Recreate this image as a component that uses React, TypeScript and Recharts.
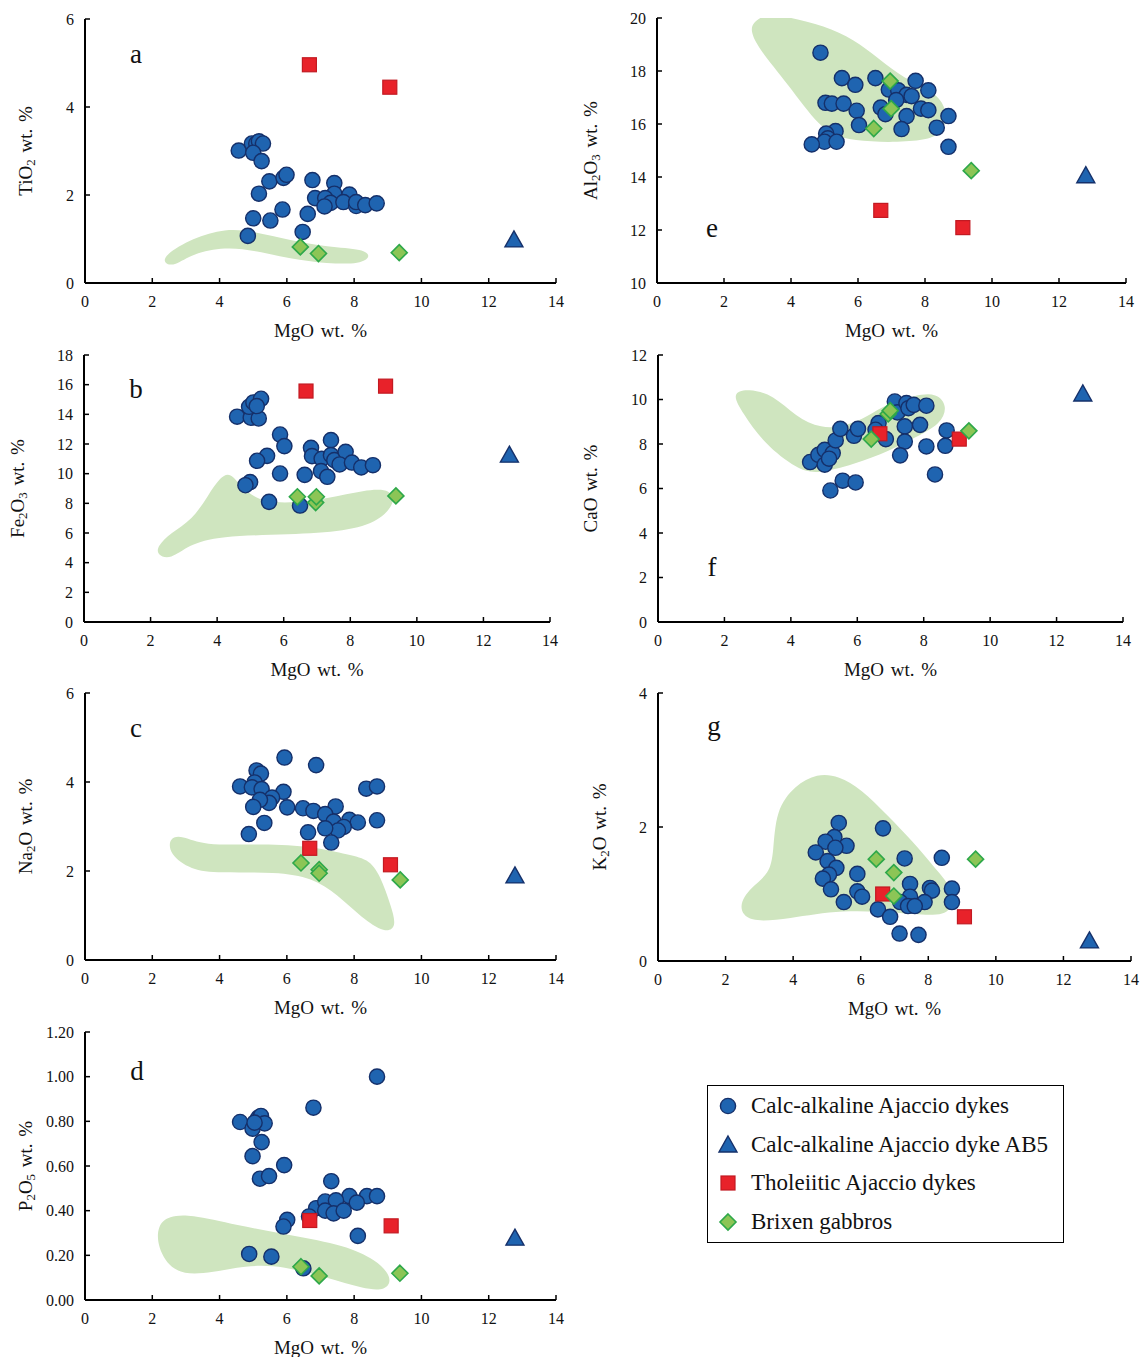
import React from 'react';
import { ScatterChart, Scatter, XAxis, YAxis, Curve } from 'recharts';

type Pt = [number, number];

const SERIF = '"Liberation Serif", "Times New Roman", serif';
const BLUE = '#1f64b0';
const NAVY = '#15306a';
const RED = '#e8222a';
const RED_EDGE = '#c21a22';
const LIME = '#8cc556';
const LIME_EDGE = '#2ea84a';
const FIELD = '#cfe5bf';

const mgoTicks = [0, 2, 4, 6, 8, 10, 12, 14];

// a: TiO2
const tiTicks = [0, 2, 4, 6];
const tiDykes: Pt[] = [[4.57, 3.01], [4.96, 3.17], [5.09, 3.17], [5.17, 3.22], [5.29, 3.17], [5.0, 2.96], [5.25, 2.77], [5.48, 2.31], [5.17, 2.03], [5.9, 2.39], [5.99, 2.46], [6.76, 2.34], [7.41, 2.27], [7.41, 2.03], [6.84, 1.93], [7.14, 1.93], [7.86, 2.01], [7.3, 1.82], [7.68, 1.84], [8.06, 1.75], [8.06, 1.84], [8.33, 1.77], [8.67, 1.81], [7.12, 1.74], [5.87, 1.67], [6.62, 1.57], [5.0, 1.47], [5.51, 1.42], [6.47, 1.16], [4.84, 1.07]];
const tiAb5: Pt[] = [[12.75, 0.98]];
const tiThol: Pt[] = [[6.67, 4.96], [9.06, 4.45]];
const tiBrixen: Pt[] = [[6.4, 0.82], [6.94, 0.67], [9.34, 0.69]];
const tiField: Pt[] = [[2.35, 0.63], [3.2, 1.02], [4.17, 1.24], [5.04, 1.17], [6.1, 0.97], [7.2, 0.82], [8.3, 0.77], [8.5, 0.6], [8.2, 0.43], [7.2, 0.44], [6.1, 0.55], [5.04, 0.74], [4.17, 0.82], [3.2, 0.67], [2.66, 0.38], [2.35, 0.44]];

// e: Al2O3
const alTicks = [10, 12, 14, 16, 18, 20];
const alDykes: Pt[] = [[4.88, 18.69], [5.52, 17.73], [5.92, 17.48], [6.52, 17.73], [7.72, 17.63], [8.1, 17.27], [6.92, 17.3], [7.2, 17.27], [7.45, 17.1], [7.6, 17.05], [7.14, 16.9], [5.03, 16.8], [5.22, 16.77], [5.57, 16.77], [5.96, 16.5], [6.68, 16.62], [6.82, 16.37], [7.88, 16.58], [8.1, 16.52], [7.45, 16.3], [8.7, 16.3], [6.03, 15.96], [7.3, 15.81], [8.35, 15.86], [5.33, 15.73], [5.05, 15.64], [5.1, 15.46], [5.0, 15.33], [5.36, 15.33], [4.62, 15.23], [8.7, 15.14]];
const alAb5: Pt[] = [[12.8, 14.05]];
const alThol: Pt[] = [[6.68, 12.74], [9.13, 12.09]];
const alBrixen: Pt[] = [[6.96, 17.62], [6.99, 16.58], [6.47, 15.83], [9.38, 14.24]];
const alField: Pt[] = [[2.85, 19.8], [3.2, 20.15], [3.91, 20.05], [5.0, 19.7], [5.87, 19.2], [6.63, 18.45], [7.39, 17.7], [8.2, 17.3], [8.65, 16.65], [8.62, 15.85], [8.2, 15.3], [5.65, 15.3], [4.85, 15.85], [3.91, 17.5], [3.0, 18.9], [2.8, 19.5]];

// b: Fe2O3
const feTicks = [0, 2, 4, 6, 8, 10, 12, 14, 16, 18];
const feDykes: Pt[] = [[4.6, 13.84], [5.01, 13.77], [5.25, 13.72], [4.96, 14.51], [5.09, 14.8], [5.32, 15.05], [5.19, 14.56], [5.89, 12.64], [6.02, 11.86], [5.5, 11.2], [5.2, 10.87], [6.82, 11.74], [6.85, 11.18], [7.14, 11.0], [7.42, 12.26], [7.42, 11.25], [7.52, 10.91], [7.86, 11.47], [7.68, 10.62], [8.05, 10.75], [8.33, 10.42], [8.68, 10.57], [7.12, 10.17], [7.31, 9.79], [6.63, 9.92], [5.89, 10.01], [4.99, 9.43], [4.85, 9.22], [5.56, 8.1], [6.49, 7.85]];
const feAb5: Pt[] = [[12.78, 11.25]];
const feThol: Pt[] = [[6.67, 15.57], [9.06, 15.9]];
const feBrixen: Pt[] = [[6.41, 8.44], [6.96, 8.05], [6.98, 8.44], [9.37, 8.5]];
const feField: Pt[] = [[2.2, 5.1], [2.6, 6.0], [3.26, 6.9], [3.72, 8.5], [4.1, 9.8], [4.4, 10.1], [4.72, 9.1], [5.12, 8.4], [5.67, 8.0], [6.76, 8.1], [7.86, 8.6], [9.06, 9.15], [9.42, 8.25], [8.9, 6.8], [7.86, 6.1], [6.21, 5.9], [4.03, 5.8], [3.15, 5.2], [2.6, 4.2], [2.2, 4.5]];

// f: CaO
const caTicks = [0, 2, 4, 6, 8, 10, 12];
const caDykes: Pt[] = [[4.58, 7.19], [4.83, 7.51], [5.02, 7.74], [5.02, 7.07], [5.26, 7.59], [5.15, 7.34], [5.35, 8.16], [5.49, 8.68], [5.9, 8.37], [6.02, 8.68], [5.19, 5.91], [5.56, 6.35], [5.95, 6.27], [6.64, 8.94], [6.55, 8.64], [6.86, 8.22], [7.13, 9.91], [7.21, 9.42], [7.48, 9.84], [7.54, 9.61], [7.7, 9.76], [8.08, 9.72], [7.89, 8.86], [7.43, 8.79], [7.43, 8.11], [7.29, 7.49], [8.08, 7.89], [8.65, 7.92], [8.69, 8.61], [8.34, 6.63]];
const caAb5: Pt[] = [[12.79, 10.25]];
const caThol: Pt[] = [[6.68, 8.46], [9.07, 8.22]];
const caBrixen: Pt[] = [[6.42, 8.22], [6.93, 9.35], [6.99, 9.5], [9.36, 8.59]];
const caField: Pt[] = [[2.2, 10.3], [2.72, 10.5], [3.48, 10.2], [4.14, 9.24], [4.91, 8.68], [5.67, 8.8], [6.33, 9.25], [6.88, 9.8], [7.75, 10.2], [8.4, 10.3], [8.72, 9.7], [8.52, 8.9], [7.75, 8.3], [6.99, 7.7], [5.89, 7.08], [4.8, 6.65], [4.2, 6.85], [3.2, 8.0], [2.55, 9.4]];

// c: Na2O
const naTicks = [0, 2, 4, 6];
const naDykes: Pt[] = [[5.93, 4.55], [6.87, 4.38], [5.1, 4.26], [5.23, 4.19], [5.04, 3.99], [4.61, 3.9], [4.96, 3.88], [5.25, 3.84], [5.9, 3.78], [5.56, 3.65], [5.47, 3.53], [5.2, 3.6], [5.0, 3.44], [6.01, 3.43], [6.48, 3.41], [6.79, 3.35], [7.45, 3.45], [7.14, 3.28], [7.39, 3.11], [7.86, 3.15], [8.11, 3.09], [8.36, 3.85], [8.68, 3.9], [8.68, 3.14], [7.69, 2.99], [7.52, 2.91], [7.14, 2.96], [6.63, 2.87], [7.32, 2.64], [5.33, 3.08], [4.87, 2.83]];
const naAb5: Pt[] = [[12.78, 1.89]];
const naThol: Pt[] = [[6.68, 2.51], [9.08, 2.14]];
const naBrixen: Pt[] = [[6.42, 2.18], [6.96, 2.03], [6.96, 1.95], [9.37, 1.8]];
const naField: Pt[] = [[2.5, 2.75], [2.88, 2.8], [3.53, 2.57], [5.04, 2.61], [6.66, 2.57], [7.73, 2.38], [8.42, 2.28], [8.78, 1.9], [9.1, 1.2], [9.27, 0.74], [8.92, 0.6], [8.22, 0.95], [7.5, 1.47], [6.76, 1.85], [5.69, 1.98], [3.96, 1.96], [3.15, 2.02], [2.5, 2.38]];

// g: K2O
const kTicks = [0, 2, 4];
const kDykes: Pt[] = [[5.35, 2.06], [6.66, 1.98], [5.22, 1.85], [4.96, 1.78], [5.58, 1.72], [5.25, 1.69], [4.67, 1.62], [5.02, 1.49], [5.28, 1.39], [7.3, 1.53], [8.4, 1.54], [5.9, 1.3], [5.06, 1.29], [4.88, 1.23], [7.46, 1.15], [8.05, 1.09], [8.11, 1.05], [8.7, 1.08], [5.12, 1.07], [5.9, 1.04], [6.04, 0.96], [7.46, 0.96], [7.17, 0.88], [7.89, 0.88], [8.7, 0.88], [7.4, 0.82], [7.6, 0.82], [5.5, 0.88], [6.51, 0.77], [6.87, 0.66], [7.15, 0.41], [7.71, 0.39]];
const kAb5: Pt[] = [[12.77, 0.3]];
const kThol: Pt[] = [[6.65, 1.0], [9.07, 0.66]];
const kBrixen: Pt[] = [[6.46, 1.52], [6.98, 1.32], [6.98, 0.97], [9.4, 1.52]];
const kField: Pt[] = [[3.48, 2.25], [4.05, 2.62], [4.71, 2.8], [5.36, 2.76], [6.01, 2.57], [6.8, 2.17], [7.55, 1.78], [8.2, 1.38], [8.68, 1.12], [8.72, 0.8], [8.4, 0.66], [7.08, 0.72], [5.47, 0.77], [3.85, 0.63], [2.66, 0.57], [2.36, 0.82], [2.74, 1.1], [3.3, 1.3], [3.42, 1.62]];

// d: P2O5
const pTicks = [0, 0.2, 0.4, 0.6, 0.8, 1.0, 1.2];
const pDykes: Pt[] = [[8.68, 1.0], [6.79, 0.861], [4.61, 0.797], [4.98, 0.767], [5.15, 0.816], [5.23, 0.824], [5.34, 0.791], [5.04, 0.794], [5.25, 0.707], [4.98, 0.644], [5.92, 0.604], [5.2, 0.543], [5.47, 0.555], [7.32, 0.532], [7.86, 0.465], [8.38, 0.465], [8.68, 0.465], [6.87, 0.411], [7.14, 0.441], [7.46, 0.446], [8.08, 0.436], [7.14, 0.4], [7.39, 0.388], [7.69, 0.4], [6.66, 0.374], [6.01, 0.359], [5.9, 0.329], [8.11, 0.287], [4.88, 0.206], [5.54, 0.194], [6.49, 0.142]];
const pAb5: Pt[] = [[12.78, 0.277]];
const pThol: Pt[] = [[6.68, 0.356], [9.1, 0.332]];
const pBrixen: Pt[] = [[6.42, 0.149], [6.96, 0.108], [9.36, 0.12]];
const pField: Pt[] = [[2.15, 0.335], [2.5, 0.375], [3.1, 0.385], [4.5, 0.335], [6.12, 0.29], [7.73, 0.245], [8.65, 0.18], [9.15, 0.1], [8.95, 0.04], [8.27, 0.05], [7.2, 0.1], [5.9, 0.152], [4.82, 0.158], [3.42, 0.11], [2.6, 0.125], [2.15, 0.235]];

const toData = (pts: Pt[]) => pts.map(([x, y]) => ({ x, y }));

const dot = (p: any) => <circle cx={p.cx} cy={p.cy} r={7.6} fill={BLUE} stroke={NAVY} strokeWidth={1.4} />;
const tri = (p: any) => (
  <polygon points={`${p.cx},${p.cy - 9} ${p.cx + 9},${p.cy + 7} ${p.cx - 9},${p.cy + 7}`} fill={BLUE} stroke={NAVY} strokeWidth={1.4} />
);
const sq = (p: any) => <rect x={p.cx - 7} y={p.cy - 7} width={14} height={14} fill={RED} stroke={RED_EDGE} strokeWidth={1.2} />;
const dia = (p: any) => (
  <polygon points={`${p.cx},${p.cy - 8} ${p.cx + 8},${p.cy} ${p.cx},${p.cy + 8} ${p.cx - 8},${p.cy}`} fill={LIME} stroke={LIME_EDGE} strokeWidth={1.6} />
);
const none = () => <g />;
const blob = (p: any) => <Curve points={p.points} type="basisClosed" fill={FIELD} stroke="none" />;

type Part = [string, boolean];

function XTick(props: any) {
  const { x, y, payload } = props;
  return (
    <text x={x} y={y} dy="0.71em" textAnchor="middle" fontSize={16} fontFamily={SERIF} fill="#111">
      {payload.value}
    </text>
  );
}

function YTick(props: any) {
  const { x, y, payload, fmt } = props;
  return (
    <text x={x} y={y} textAnchor="end" dominantBaseline="central" fontSize={16} fontFamily={SERIF} fill="#111">
      {fmt ? fmt(payload.value) : payload.value}
    </text>
  );
}

function XTitle(props: any) {
  const vb = props.viewBox || {};
  return (
    <text x={vb.x + vb.width / 2} y={vb.y + 47} textAnchor="middle" dominantBaseline="central" fontSize={19} fontFamily={SERIF} wordSpacing={2} fill="#111">
      MgO wt. %
    </text>
  );
}

function YTitle({ viewBox, parts, gap }: any) {
  const vb = viewBox || {};
  const cx = vb.x + vb.width - gap;
  const cy = vb.y + vb.height / 2;
  let prevSub = false;
  return (
    <text x={cx} y={cy} transform={`rotate(-90 ${cx} ${cy})`} textAnchor="middle" dominantBaseline="central" fontSize={19} fontFamily={SERIF} wordSpacing={2} fill="#111">
      {(parts as Part[]).map(([s, sub], i) => {
        const dy = sub ? (prevSub ? 0 : 5) : prevSub ? -5 : 0;
        prevSub = sub;
        return (
          <tspan key={i} dy={dy} fontSize={sub ? 13 : 19}>
            {s}
          </tspan>
        );
      })}
    </text>
  );
}

interface PanelProps {
  box: [number, number, number, number];
  yDomain: [number, number];
  yTicks: number[];
  yFmt?: (v: number) => string;
  title: Part[];
  gap: number;
  field: Pt[];
  dykes: Pt[];
  ab5: Pt[];
  thol: Pt[];
  brixen: Pt[];
}

const YW = 80;
const XH = 60;
const MT = 10;
const MR = 15;

function Panel({ box, yDomain, yTicks, yFmt, title, gap, field, dykes, ab5, thol, brixen }: PanelProps) {
  const [x0, y0, x1, y1] = box;
  const width = x1 - x0 + YW + MR;
  const height = y1 - y0 + MT + XH;
  return (
    <div style={{ position: 'absolute', left: x0 - YW, top: y0 - MT }}>
      <ScatterChart width={width} height={height} margin={{ top: MT, right: MR, left: 0, bottom: 0 }}>
        <XAxis
          type="number"
          dataKey="x"
          domain={[0, 14]}
          ticks={mgoTicks}
          interval={0}
          allowDataOverflow
          height={XH}
          tickSize={-5}
          tickMargin={18}
          axisLine={{ stroke: '#000', strokeWidth: 2 }}
          tickLine={{ stroke: '#000', strokeWidth: 1.5 }}
          tick={(p: any) => <XTick {...p} />}
          label={{ content: (p: any) => <XTitle {...p} /> }}
        />
        <YAxis
          type="number"
          dataKey="y"
          domain={yDomain}
          ticks={yTicks}
          interval={0}
          allowDataOverflow
          width={YW}
          tickSize={-5}
          tickMargin={16}
          axisLine={{ stroke: '#000', strokeWidth: 2 }}
          tickLine={{ stroke: '#000', strokeWidth: 1.5 }}
          tick={(p: any) => <YTick {...p} fmt={yFmt} />}
          label={{ content: (p: any) => <YTitle viewBox={p.viewBox} parts={title} gap={gap} /> }}
        />
        <Scatter data={toData(field)} line={blob} shape={none} isAnimationActive={false} />
        <Scatter data={toData(dykes)} shape={dot} isAnimationActive={false} />
        <Scatter data={toData(ab5)} shape={tri} isAnimationActive={false} />
        <Scatter data={toData(thol)} shape={sq} isAnimationActive={false} />
        <Scatter data={toData(brixen)} shape={dia} isAnimationActive={false} />
      </ScatterChart>
    </div>
  );
}

const letters: [string, number, number][] = [
  ['a', 136, 63],
  ['b', 136, 398],
  ['c', 136, 737],
  ['d', 137, 1080],
  ['e', 712, 237],
  ['f', 712, 576],
  ['g', 714, 735],
];

const legendItems: [string, (p: any) => React.ReactElement][] = [
  ['Calc-alkaline Ajaccio dykes', dot],
  ['Calc-alkaline Ajaccio dyke AB5', tri],
  ['Tholeiitic Ajaccio dykes', sq],
  ['Brixen gabbros', dia],
];

function Legend() {
  return (
    <div
      style={{
        position: 'absolute',
        left: 707,
        top: 1085,
        width: 355,
        height: 156,
        border: '1px solid #000',
        fontFamily: SERIF,
        fontSize: 23,
        color: '#111',
      }}
    >
      {legendItems.map(([name, icon], i) => (
        <div key={name} style={{ position: 'absolute', left: 0, top: 6 + i * 38.5, height: 28, display: 'flex', alignItems: 'center' }}>
          <svg width={40} height={28} style={{ display: 'block' }}>
            {icon({ cx: 20, cy: 14 })}
          </svg>
          <span style={{ marginLeft: 3, whiteSpace: 'nowrap' }}>{name}</span>
        </div>
      ))}
    </div>
  );
}

export default function App() {
  return (
    <div style={{ position: 'absolute', left: 0, top: 0, width: 1141, height: 1357, background: '#fff' }}>
      <Panel box={[85, 19, 556, 283]} yDomain={[0, 6]} yTicks={tiTicks} title={[['TiO', false], ['2', true], [' wt. %', false]]} gap={60} field={tiField} dykes={tiDykes} ab5={tiAb5} thol={tiThol} brixen={tiBrixen} />
      <Panel box={[84, 355, 550, 622]} yDomain={[0, 18]} yTicks={feTicks} title={[['Fe', false], ['2', true], ['O', false], ['3', true], [' wt. %', false]]} gap={67} field={feField} dykes={feDykes} ab5={feAb5} thol={feThol} brixen={feBrixen} />
      <Panel box={[85, 693, 556, 960]} yDomain={[0, 6]} yTicks={naTicks} title={[['Na', false], ['2', true], ['O wt. %', false]]} gap={60} field={naField} dykes={naDykes} ab5={naAb5} thol={naThol} brixen={naBrixen} />
      <Panel box={[85, 1032, 556, 1300]} yDomain={[0, 1.2]} yTicks={pTicks} yFmt={(v: number) => v.toFixed(2)} title={[['P', false], ['2', true], ['O', false], ['5', true], [' wt. %', false]]} gap={60} field={pField} dykes={pDykes} ab5={pAb5} thol={pThol} brixen={pBrixen} />
      <Panel box={[657, 18, 1126, 283]} yDomain={[10, 20]} yTicks={alTicks} title={[['Al', false], ['2', true], ['O', false], ['3', true], [' wt. %', false]]} gap={67} field={alField} dykes={alDykes} ab5={alAb5} thol={alThol} brixen={alBrixen} />
      <Panel box={[658, 355, 1123, 622]} yDomain={[0, 12]} yTicks={caTicks} title={[['CaO wt. %', false]]} gap={68} field={caField} dykes={caDykes} ab5={caAb5} thol={caThol} brixen={caBrixen} />
      <Panel box={[658, 693, 1131, 961]} yDomain={[0, 4]} yTicks={kTicks} title={[['K', false], ['2', true], ['O wt. %', false]]} gap={59} field={kField} dykes={kDykes} ab5={kAb5} thol={kThol} brixen={kBrixen} />
      <svg width={1141} height={1357} style={{ position: 'absolute', left: 0, top: 0, pointerEvents: 'none' }}>
        {letters.map(([t, x, y]) => (
          <text key={t} x={x} y={y} textAnchor="middle" fontSize={27} fontFamily={SERIF} fill="#111">
            {t}
          </text>
        ))}
      </svg>
      <Legend />
    </div>
  );
}
